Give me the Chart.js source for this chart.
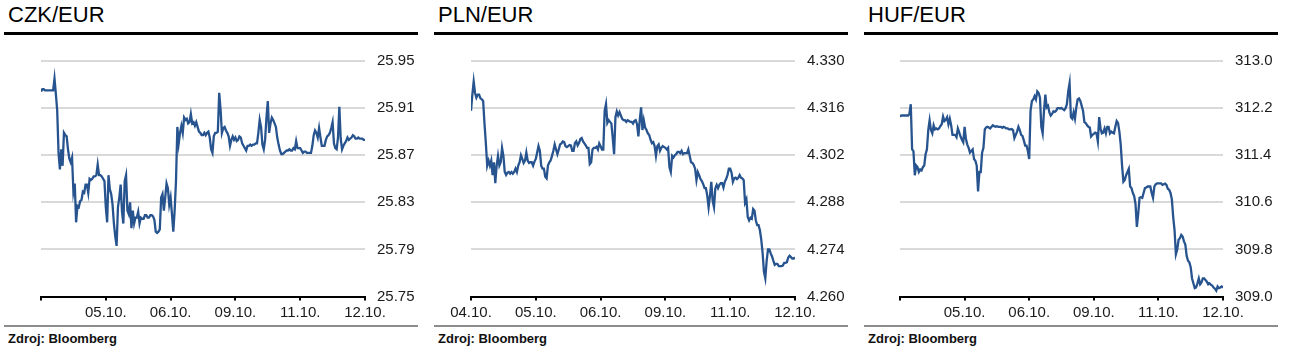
<!DOCTYPE html>
<html>
<head>
<meta charset="utf-8">
<script src="https://cdn.jsdelivr.net/npm/chart.js@4"></script>
<style>
  html, body { margin: 0; padding: 0; background: #fff; }
  body { width: 1293px; height: 352px; position: relative; overflow: hidden; font-family: 'Liberation Sans', Arial, sans-serif; }
  .panel { position: absolute; top: 0; width: 430px; height: 352px; }
  .title { position: absolute; left: 8px; top: 3px; font-size: 22px; line-height: 24px; color: #000; white-space: nowrap; }
  .rule { position: absolute; left: 4px; top: 32px; width: 414px; height: 3px; background: #000; }
  .cw { position: absolute; left: 0; top: 40px; width: 430px; height: 282px; }
  .grule { position: absolute; left: 4px; top: 325px; width: 414px; height: 2px; background: #8c8c8c; }
  .src { position: absolute; left: 8px; top: 331px; font-size: 13px; line-height: 15px; font-weight: bold; color: #111; white-space: nowrap; }
</style>
</head>
<body>
<div class="panel" style="left:0px"><div class="title">CZK/EUR</div><div class="rule"></div><div class="cw"><canvas id="c1" width="430" height="282"></canvas></div><div class="grule"></div><div class="src">Zdroj: Bloomberg</div></div>
<div class="panel" style="left:430px"><div class="title">PLN/EUR</div><div class="rule"></div><div class="cw"><canvas id="c2" width="430" height="282"></canvas></div><div class="grule"></div><div class="src">Zdroj: Bloomberg</div></div>
<div class="panel" style="left:860px"><div class="title">HUF/EUR</div><div class="rule"></div><div class="cw"><canvas id="c3" width="430" height="282"></canvas></div><div class="grule"></div><div class="src">Zdroj: Bloomberg</div></div>
<script>
// half-hourly readings over 5 trading days (48 points per day, 241 points)
const pointsPerDay = 48;

const czkDates = ['', '05.10.', '06.10.', '09.10.', '11.10.', '12.10.'];
const plnDates = ['04.10.', '05.10.', '06.10.', '09.10.', '11.10.', '12.10.'];
const hufDates = ['', '05.10.', '06.10.', '09.10.', '11.10.', '12.10.'];

const czkTicks = [25.75, 25.79, 25.83, 25.87, 25.91, 25.95];
const plnTicks = [4.260, 4.274, 4.288, 4.302, 4.316, 4.330];
const hufTicks = [309.0, 309.8, 310.6, 311.4, 312.2, 313.0];

const czkRate = [
  25.924, 25.926, 25.926, 25.925, 25.925, 25.925, 25.925, 25.925, 25.925, 25.925,
  25.935, 25.922, 25.908, 25.872, 25.858, 25.875, 25.861, 25.889, 25.887, 25.886,
  25.875, 25.867, 25.864, 25.868, 25.839, 25.846, 25.813, 25.827, 25.826, 25.831,
  25.832, 25.839, 25.838, 25.845, 25.845, 25.838, 25.850, 25.849, 25.850, 25.852,
  25.852, 25.853, 25.862, 25.853, 25.853, 25.852, 25.850, 25.848, 25.826, 25.813,
  25.853, 25.841, 25.837, 25.828, 25.812, 25.801, 25.793, 25.826, 25.834, 25.845,
  25.822, 25.812, 25.848, 25.853, 25.823, 25.820, 25.830, 25.808, 25.823, 25.812,
  25.817, 25.817, 25.822, 25.812, 25.817, 25.816, 25.816, 25.819, 25.819, 25.817,
  25.817, 25.819, 25.819, 25.818, 25.815, 25.805, 25.804, 25.805, 25.807, 25.834,
  25.837, 25.823, 25.834, 25.846, 25.842, 25.828, 25.834, 25.820, 25.805, 25.823,
  25.848, 25.894, 25.880, 25.889, 25.895, 25.889, 25.902, 25.900, 25.901, 25.897,
  25.898, 25.905, 25.897, 25.898, 25.895, 25.898, 25.894, 25.890, 25.889, 25.887,
  25.887, 25.889, 25.887, 25.889, 25.890, 25.885, 25.875, 25.872, 25.886, 25.889,
  25.889, 25.890, 25.923, 25.909, 25.889, 25.893, 25.894, 25.891, 25.889, 25.886,
  25.878, 25.883, 25.886, 25.883, 25.885, 25.882, 25.883, 25.886, 25.885, 25.880,
  25.878, 25.876, 25.874, 25.878, 25.878, 25.879, 25.878, 25.879, 25.879, 25.880,
  25.880, 25.889, 25.900, 25.894, 25.879, 25.875, 25.883, 25.902, 25.916, 25.889,
  25.897, 25.902, 25.900, 25.897, 25.894, 25.885, 25.879, 25.874, 25.871, 25.871,
  25.872, 25.873, 25.874, 25.874, 25.875, 25.874, 25.874, 25.876, 25.875, 25.882,
  25.876, 25.876, 25.876, 25.874, 25.872, 25.873, 25.873, 25.872, 25.872, 25.872,
  25.872, 25.878, 25.887, 25.891, 25.889, 25.885, 25.893, 25.885, 25.878, 25.878,
  25.878, 25.883, 25.886, 25.887, 25.889, 25.893, 25.898, 25.880, 25.876, 25.875,
  25.885, 25.911, 25.884, 25.875, 25.878, 25.880, 25.882, 25.885, 25.883, 25.884,
  25.885, 25.887, 25.886, 25.884, 25.884, 25.885, 25.884, 25.884, 25.884, 25.883,
  25.883
];

const plnRate = [
  4.3152, 4.3200, 4.3239, 4.3205, 4.3191, 4.3200, 4.3200, 4.3189, 4.3186, 4.3181,
  4.3114, 4.3056, 4.2989, 4.3004, 4.2989, 4.3004, 4.2961, 4.2999, 4.2937, 4.2989,
  4.3018, 4.2989, 4.2999, 4.3042, 4.3018, 4.2970, 4.2961, 4.2968, 4.2970, 4.2965,
  4.2970, 4.2965, 4.2970, 4.2980, 4.2970, 4.2989, 4.2999, 4.3020, 4.3009, 4.2997,
  4.3004, 4.3028, 4.3004, 4.2997, 4.2999, 4.2999, 4.2989, 4.3001, 4.3009, 4.3028,
  4.3047, 4.3033, 4.2989, 4.2980, 4.2980, 4.2956, 4.2951, 4.2989, 4.2999, 4.3004,
  4.3018, 4.3033, 4.3052, 4.3037, 4.3023, 4.3037, 4.3052, 4.3055, 4.3061, 4.3059,
  4.3047, 4.3044, 4.3047, 4.3050, 4.3049, 4.3033, 4.3033, 4.3056, 4.3061, 4.3049,
  4.3056, 4.3068, 4.3071, 4.3061, 4.3055, 4.3049, 4.3042, 4.3042, 4.2994, 4.2999,
  4.3037, 4.3042, 4.3042, 4.3045, 4.3037, 4.3055, 4.3047, 4.3037, 4.3037, 4.3152,
  4.3172, 4.3116, 4.3124, 4.3119, 4.3114, 4.3071, 4.3023, 4.3133, 4.3150, 4.3138,
  4.3148, 4.3138, 4.3128, 4.3124, 4.3124, 4.3119, 4.3124, 4.3122, 4.3119, 4.3119,
  4.3114, 4.3122, 4.3124, 4.3112, 4.3076, 4.3124, 4.3162, 4.3095, 4.3124, 4.3102,
  4.3095, 4.3085, 4.3080, 4.3066, 4.3056, 4.3059, 4.3047, 4.3018, 4.3047, 4.3052,
  4.3033, 4.3042, 4.3047, 4.3044, 4.3042, 4.3037, 4.3042, 4.2984, 4.2970, 4.3018,
  4.3013, 4.3020, 4.3023, 4.3030, 4.3030, 4.3026, 4.3033, 4.3023, 4.3026, 4.3026,
  4.3026, 4.3037, 4.3018, 4.2999, 4.2997, 4.2991, 4.2980, 4.2946, 4.2970, 4.2961,
  4.2949, 4.2943, 4.2934, 4.2922, 4.2922, 4.2900, 4.2865, 4.2898, 4.2941, 4.2884,
  4.2865, 4.2922, 4.2932, 4.2922, 4.2932, 4.2937, 4.2937, 4.2924, 4.2941, 4.2949,
  4.2961, 4.2980, 4.2980, 4.2968, 4.2941, 4.2951, 4.2953, 4.2949, 4.2953, 4.2961,
  4.2953, 4.2951, 4.2946, 4.2879, 4.2889, 4.2836, 4.2826, 4.2834, 4.2831, 4.2860,
  4.2855, 4.2826, 4.2812, 4.2812, 4.2797, 4.2769, 4.2730, 4.2673, 4.2654, 4.2706,
  4.2740, 4.2740, 4.2728, 4.2719, 4.2706, 4.2694, 4.2697, 4.2697, 4.2690, 4.2690,
  4.2690, 4.2692, 4.2700, 4.2700, 4.2702, 4.2716, 4.2721, 4.2717, 4.2713, 4.2713,
  4.2716
];

const hufRate = [
  312.057, 312.074, 312.074, 312.074, 312.074, 312.074, 312.074, 312.101, 312.265, 311.498,
  311.470, 311.060, 311.224, 311.197, 311.115, 311.159, 311.142, 311.197, 311.224, 311.416,
  311.498, 311.827, 311.991, 311.827, 311.772, 311.909, 311.838, 311.855, 311.838, 311.855,
  311.893, 311.926, 312.057, 311.980, 312.002, 312.046, 311.926, 312.019, 311.909, 311.745,
  311.745, 311.745, 311.706, 311.855, 311.789, 311.717, 311.663, 311.619, 311.882, 311.674,
  311.580, 311.525, 311.443, 311.470, 311.498, 311.334, 311.306, 311.224, 310.786, 311.115,
  311.115, 311.443, 311.525, 311.838, 311.871, 311.882, 311.871, 311.855, 311.882, 311.909,
  311.893, 311.882, 311.893, 311.882, 311.882, 311.882, 311.866, 311.882, 311.871, 311.855,
  311.855, 311.838, 311.838, 311.844, 311.827, 311.690, 311.745, 311.800, 311.882, 311.827,
  311.745, 311.728, 311.652, 311.564, 311.564, 311.470, 311.334, 312.156, 312.320, 312.348,
  312.402, 312.348, 312.484, 312.457, 312.375, 311.882, 311.772, 312.156, 312.430, 312.211,
  312.238, 312.128, 312.074, 312.101, 312.145, 312.134, 312.156, 312.200, 312.200, 312.194,
  312.200, 312.183, 312.167, 312.200, 312.265, 312.484, 312.621, 312.046, 312.019, 312.128,
  312.019, 312.211, 312.348, 312.364, 312.320, 312.238, 312.156, 311.964, 311.948, 311.909,
  311.882, 311.871, 311.717, 311.745, 311.761, 311.783, 311.772, 311.635, 312.046, 311.854,
  311.772, 311.783, 311.854, 311.772, 311.882, 311.882, 311.772, 311.800, 311.783, 311.772,
  311.882, 311.980, 311.948, 311.800, 311.580, 311.224, 310.950, 310.978, 311.060, 311.115,
  311.169, 310.868, 310.841, 310.759, 310.704, 310.567, 310.183, 310.402, 310.676, 310.687,
  310.676, 310.759, 310.841, 310.852, 310.868, 310.868, 310.868, 310.759, 310.676, 310.868,
  310.906, 310.923, 310.923, 310.923, 310.923, 310.895, 310.906, 310.917, 310.895, 310.830,
  310.814, 310.759, 310.650, 310.348, 310.128, 309.718, 309.800, 309.964, 309.991, 310.046,
  310.019, 309.937, 309.882, 309.690, 309.608, 309.580, 309.498, 309.306, 309.224, 309.142,
  309.153, 309.224, 309.306, 309.208, 309.240, 309.306, 309.306, 309.279, 309.252, 309.208,
  309.224, 309.197, 309.186, 309.153, 309.132, 309.098, 309.170, 309.142, 309.153, 309.170,
  309.153
];

const FONT = "'Liberation Sans', Arial, sans-serif";
const LINE_COLOR = '#27548f';

function makeChart(id, rates, ticks, dates, decimals, padLeft, yWidth) {
  const lo = ticks[0], hi = ticks[ticks.length - 1];
  new Chart(document.getElementById(id), {
    type: 'line',
    data: {
      datasets: [{
        data: rates.map((v, i) => ({ x: i / pointsPerDay, y: v })),
        borderColor: LINE_COLOR,
        borderWidth: 2.3,
        pointRadius: 0,
        tension: 0,
        fill: false
      }]
    },
    options: {
      responsive: false,
      animation: false,
      devicePixelRatio: 1,
      layout: { padding: { left: padLeft, top: 13, right: 0, bottom: 0 } },
      plugins: { legend: { display: false }, tooltip: { enabled: false } },
      scales: {
        x: {
          type: 'linear',
          min: 0,
          max: dates.length - 1,
          afterBuildTicks: s => { s.ticks = dates.map((d, i) => ({ value: i })); },
          afterFit: s => { s.height = 25.5; },
          ticks: {
            autoSkip: false,
            maxRotation: 0,
            padding: 3,
            color: '#1a1a1a',
            font: { family: FONT, size: 15 },
            callback: v => dates[Math.round(v)]
          },
          grid: { drawOnChartArea: false, drawTicks: true, tickLength: 4, color: '#000', lineWidth: 2 },
          border: { display: true, color: '#000', width: 2 }
        },
        y: {
          position: 'right',
          min: lo,
          max: hi,
          afterBuildTicks: s => { s.ticks = ticks.map(v => ({ value: v })); },
          afterFit: s => { s.width = yWidth; },
          ticks: {
            padding: 12,
            color: '#1a1a1a',
            font: { family: FONT, size: 15 },
            callback: v => Number(v).toFixed(decimals)
          },
          grid: {
            drawTicks: false,
            lineWidth: 2,
            color: c => (c.tick && Math.abs(c.tick.value - lo) < 1e-9) ? 'rgba(0,0,0,0)' : '#d9d9d9'
          },
          border: { display: false }
        }
      }
    }
  });
}

makeChart('c1', czkRate, czkTicks, czkDates, 2, 41, 65);
makeChart('c2', plnRate, plnTicks, plnDates, 3, 41, 65);
makeChart('c3', hufRate, hufTicks, hufDates, 1, 40, 67);
</script>
</body>
</html>
